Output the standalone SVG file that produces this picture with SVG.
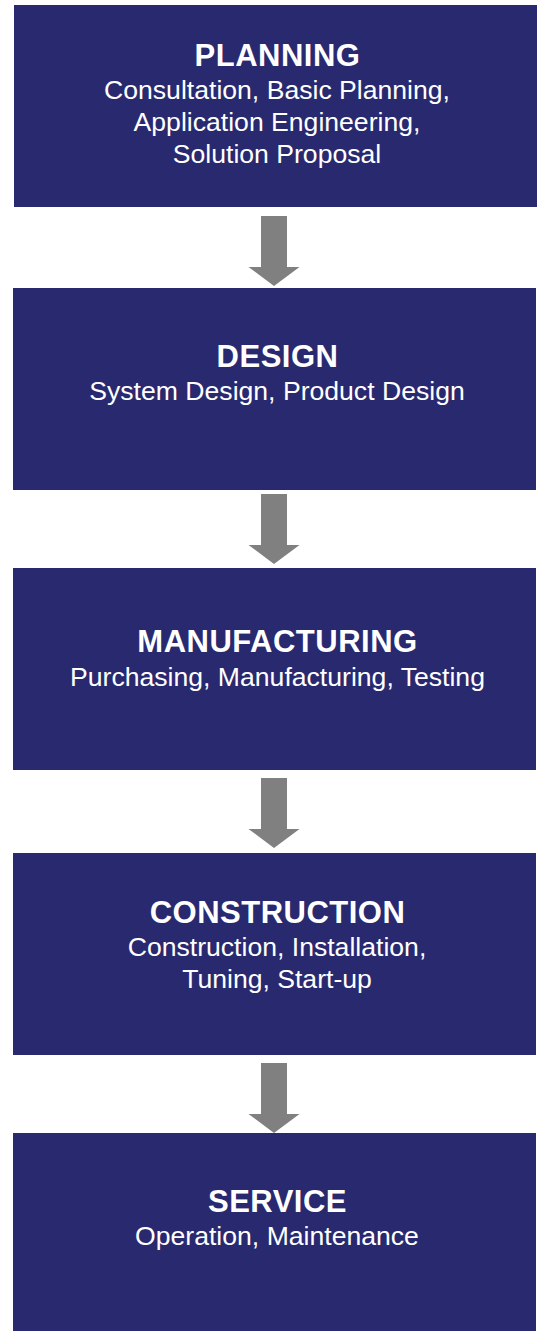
<svg xmlns="http://www.w3.org/2000/svg" width="541" height="1331" viewBox="0 0 541 1331">
  <style>
    .box { fill: #29296f; }
    .arrow { fill: #808080; }
    .title { font-family: "Liberation Sans", Arial, sans-serif; font-weight: bold; font-size: 31px; letter-spacing: 0.5px; fill: #ffffff; text-anchor: middle; }
    .sub { font-family: "Liberation Sans", Arial, sans-serif; font-size: 26.6px; fill: #ffffff; text-anchor: middle; }
  </style>
  <defs>
    <path id="arr" d="M -13 0 H 13 V 51 H 25.5 L 0 70 L -25.5 51 H -13 Z"/>
  </defs>
  <rect width="541" height="1331" fill="#ffffff"/>

  <g id="planning">
    <rect class="box" x="14" y="5" width="523" height="202"/>
    <text class="title" x="277.5" y="66">PLANNING</text>
    <text class="sub" x="277" y="99">Consultation, Basic Planning,</text>
    <text class="sub" x="277" y="131">Application Engineering,</text>
    <text class="sub" x="277" y="163">Solution Proposal</text>
  </g>

  <g id="design">
    <rect class="box" x="13" y="288" width="523" height="202"/>
    <text class="title" x="277.5" y="367">DESIGN</text>
    <text class="sub" x="277" y="400">System Design, Product Design</text>
  </g>

  <g id="manufacturing">
    <rect class="box" x="13" y="568" width="523" height="202"/>
    <text class="title" x="277.5" y="652">MANUFACTURING</text>
    <text class="sub" x="277.5" y="686">Purchasing, Manufacturing, Testing</text>
  </g>

  <g id="construction">
    <rect class="box" x="13" y="853" width="523" height="202"/>
    <text class="title" x="277.5" y="923">CONSTRUCTION</text>
    <text class="sub" x="277" y="956">Construction, Installation,</text>
    <text class="sub" x="277" y="988">Tuning, Start-up</text>
  </g>

  <g id="service">
    <rect class="box" x="13" y="1133" width="523" height="198"/>
    <text class="title" x="277.5" y="1212">SERVICE</text>
    <text class="sub" x="277" y="1245">Operation, Maintenance</text>
  </g>

  <g id="connectors">
    <use href="#arr" class="arrow" transform="translate(274 216)"/>
    <use href="#arr" class="arrow" transform="translate(274 494)"/>
    <use href="#arr" class="arrow" transform="translate(274 778)"/>
    <use href="#arr" class="arrow" transform="translate(274 1063)"/>
  </g>
</svg>
